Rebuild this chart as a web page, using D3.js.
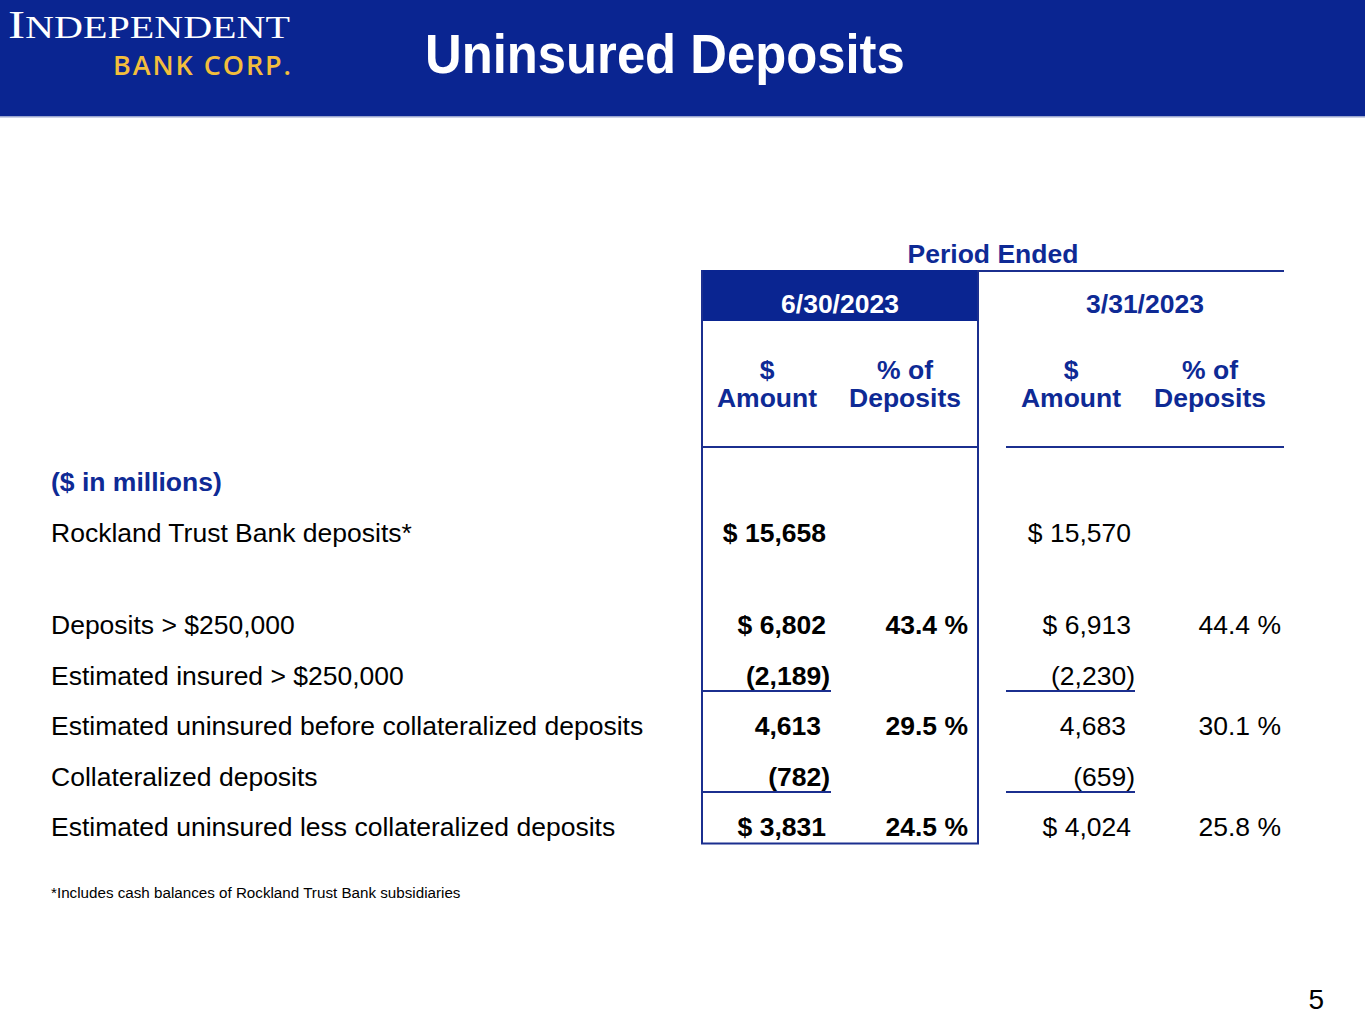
<!DOCTYPE html>
<html>
<head>
<meta charset="utf-8">
<script src="https://cdn.jsdelivr.net/npm/d3@7"></script>
<style>
  html, body { margin: 0; padding: 0; background: #fff; }
  svg { display: block; }
  text { font-family: "Liberation Sans", Arial, sans-serif; }
</style>
</head>
<body>
<svg id="chart" width="1365" height="1024"></svg>
<script>
// ---------- DATA ----------
const title = "Uninsured Deposits";
const periodLabel = "Period Ended";
const periods = ["6/30/2023", "3/31/2023"];
const colHeads = [["$", "Amount"], ["% of", "Deposits"]];
const unitLabel = "($ in millions)";
const rowLabels = [
  "Rockland Trust Bank deposits*",
  "Deposits > $250,000",
  "Estimated insured > $250,000",
  "Estimated uninsured before collateralized deposits",
  "Collateralized deposits",
  "Estimated uninsured less collateralized deposits"
];
const amountsJun = [15658, 6802, -2189, 4613, -782, 3831];
const pctJun     = [null, 43.4, null, 29.5, null, 24.5];
const amountsMar = [15570, 6913, -2230, 4683, -659, 4024];
const pctMar     = [null, 44.4, null, 30.1, null, 25.8];
const dollarRows = [true, true, false, false, false, true];
const subtotalRuleRows = [false, false, true, false, true, false];
const footnote = "*Includes cash balances of Rockland Trust Bank subsidiaries";
const pageNumber = "5";

// ---------- STYLE / LAYOUT ----------
const W = 1365, H = 1024;
const navy = "#0A2591";
const textBlue = "#0E2A95";
const gold = "#F3BE3C";
const FS = "26.5px";
const svg = d3.select("#chart");

// header band
svg.append("rect").attr("x", 0).attr("y", 0).attr("width", W).attr("height", 116).attr("fill", navy);
svg.append("rect").attr("x", 0).attr("y", 116).attr("width", W).attr("height", 1.5).attr("fill", "#9aa6cf");

// logo
const logo = svg.append("text").attr("x", 8).attr("y", 38).attr("fill", "#fff")
  .style("font-family", "'Liberation Serif', 'DejaVu Serif', serif")
  .attr("textLength", 282).attr("lengthAdjust", "spacingAndGlyphs");
logo.append("tspan").style("font-size", "41px").text("I");
logo.append("tspan").style("font-size", "32px").text("NDEPENDENT");
svg.append("text").attr("x", 113).attr("y", 75).attr("fill", gold)
  .style("font-family", "'Open Sans', sans-serif").style("font-weight", 600).style("font-size", "27px")
  .attr("textLength", 178).attr("lengthAdjust", "spacing")
  .text("BANK CORP.");

// title (slightly taller than the plain face, as in the slide)
svg.append("text").attr("transform", "translate(425,73) scale(1,1.11)").attr("fill", "#fff")
  .style("font-weight", "bold").style("font-size", "50.8px").text(title);

// column geometry
const leftBox = { x0: 702, x1: 978 };
const rightBox = { x0: 1006, x1: 1284 };
const x = {
  amtJ: 826, pctJ: 968, amtM: 1131, pctM: 1281,
  headAmtJ: 767, headPctJ: 905, headAmtM: 1071, headPctM: 1210
};

// row scale: row index -> baseline, with a spacer after the first data row
const rowSlots = rowLabels.map((d, i) => i === 0 ? 1 : i + 1.84);
const y = d3.scaleLinear().domain([0, 1]).range([491, 541.5]);
const stroke = "#1B2F8F";

// Period ended
svg.append("text").attr("x", 993).attr("y", 263).attr("text-anchor", "middle")
  .attr("fill", textBlue).style("font-weight", "bold").style("font-size", FS).text(periodLabel);
svg.append("line").attr("x1", 978).attr("x2", rightBox.x1).attr("y1", 271).attr("y2", 271)
  .attr("stroke", stroke).attr("stroke-width", 2);

// filled period box
svg.append("rect").attr("x", leftBox.x0).attr("y", 270).attr("width", leftBox.x1 - leftBox.x0).attr("height", 51)
  .attr("fill", navy);
svg.append("text").attr("x", (leftBox.x0 + leftBox.x1) / 2).attr("y", 313).attr("text-anchor", "middle")
  .attr("fill", "#fff").style("font-weight", "bold").style("font-size", FS).text(periods[0]);
svg.append("text").attr("x", (rightBox.x0 + rightBox.x1) / 2 - 0).attr("y", 313).attr("text-anchor", "middle")
  .attr("fill", textBlue).style("font-weight", "bold").style("font-size", FS).text(periods[1]);

// box outline for the current period
const boxBottom = y(rowSlots[rowSlots.length - 1]) + 7;
svg.append("path")
  .attr("d", `M${leftBox.x0},270 V${boxBottom} H${leftBox.x1} V270`)
  .attr("fill", "none").attr("stroke", stroke).attr("stroke-width", 2);
svg.append("line").attr("x1", leftBox.x0).attr("x2", leftBox.x1).attr("y1", 447).attr("y2", 447)
  .attr("stroke", stroke).attr("stroke-width", 2);
svg.append("line").attr("x1", rightBox.x0).attr("x2", rightBox.x1).attr("y1", 447).attr("y2", 447)
  .attr("stroke", stroke).attr("stroke-width", 2);

// column headings
[[x.headAmtJ, 0], [x.headPctJ, 1], [x.headAmtM, 0], [x.headPctM, 1]].forEach(([cx, k]) => {
  const t = svg.append("text").attr("x", cx).attr("y", 379).attr("text-anchor", "middle")
    .attr("fill", textBlue).style("font-weight", "bold").style("font-size", FS);
  t.append("tspan").attr("x", cx).attr("y", 379).text(colHeads[k][0]);
  t.append("tspan").attr("x", cx).attr("y", 407).text(colHeads[k][1]);
});

// unit label
svg.append("text").attr("x", 51).attr("y", y(0)).attr("fill", textBlue)
  .style("font-weight", "bold").style("font-size", FS).text(unitLabel);

// row labels
svg.selectAll("text.rowlabel").data(rowLabels).join("text")
  .attr("class", "rowlabel").attr("x", 51).attr("y", (d, i) => y(rowSlots[i]))
  .attr("fill", "#000").style("font-size", FS).text(d => d);

const fmt = d3.format(",");
function amtText(v, i) {
  if (v < 0) return "(" + fmt(-v) + ")";
  return (dollarRows[i] ? "$ " : "") + fmt(v);
}
function amtX(v, i, base) {
  if (v < 0) return base + 4;
  return dollarRows[i] ? base : base - 5;
}

// amounts
function drawAmounts(vals, base, bold) {
  svg.append("g").selectAll("text").data(vals).join("text")
    .attr("x", (d, i) => amtX(d, i, base)).attr("y", (d, i) => y(rowSlots[i]))
    .attr("text-anchor", "end").attr("fill", "#000")
    .style("font-weight", bold ? "bold" : "normal").style("font-size", FS)
    .text((d, i) => amtText(d, i));
}
function drawPcts(vals, base, bold) {
  svg.append("g").selectAll("text").data(vals.map((v, i) => ({ v, i })).filter(d => d.v !== null)).join("text")
    .attr("x", base).attr("y", d => y(rowSlots[d.i]))
    .attr("text-anchor", "end").attr("fill", "#000")
    .style("font-weight", bold ? "bold" : "normal").style("font-size", FS)
    .text(d => d.v.toFixed(1) + " %");
}
drawAmounts(amountsJun, x.amtJ, true);
drawPcts(pctJun, x.pctJ, true);
drawAmounts(amountsMar, x.amtM, false);
drawPcts(pctMar, x.pctM, false);

// subtotal rules
subtotalRuleRows.forEach((r, i) => {
  if (!r) return;
  const ry = y(rowSlots[i]) + 6;
  svg.append("line").attr("x1", leftBox.x0).attr("x2", 831).attr("y1", ry).attr("y2", ry)
    .attr("stroke", stroke).attr("stroke-width", 2);
  svg.append("line").attr("x1", rightBox.x0).attr("x2", 1135).attr("y1", ry).attr("y2", ry)
    .attr("stroke", stroke).attr("stroke-width", 2);
});

// footnote & page number
svg.append("text").attr("x", 51).attr("y", 898).attr("fill", "#000").style("font-size", "15.2px").text(footnote);
svg.append("text").attr("x", 1324).attr("y", 1009).attr("text-anchor", "end").attr("fill", "#000")
  .style("font-size", "28px").text(pageNumber);
</script>
</body>
</html>
